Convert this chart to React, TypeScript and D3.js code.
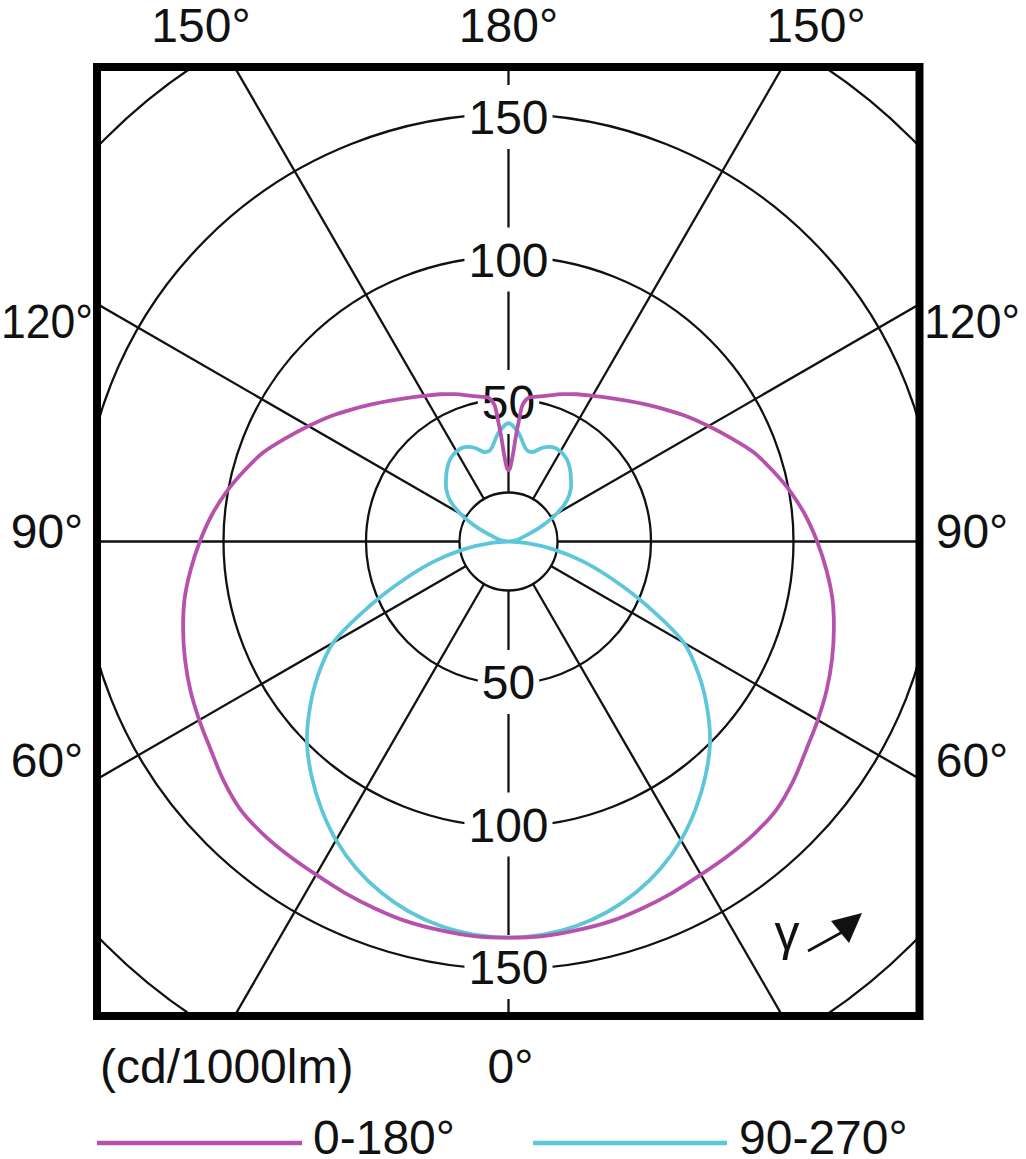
import React, { useEffect, useRef } from 'react';
import * as d3 from 'd3';

// ---- Data ----
// C0-C180 plane (magenta): gamma in degrees, intensity in cd/1000lm
const gammaC0 = [0, 5, 10, 15, 20, 25, 30, 35, 40, 45, 50, 55, 60, 65, 70, 75, 80, 85, 90, 95, 100, 105, 110, 115, 120, 125, 130, 135, 140, 145, 150, 155, 160, 165, 170, 172, 174, 175, 176, 177, 178, 179, 180];
const intensityC0 = [139, 139, 138.5, 138, 137, 136, 135, 134.5, 134, 133, 130.5, 127.5, 125.3, 123.2, 120.8, 118.2, 115.4, 111.9, 108.3, 104.6, 100.5, 96, 91.5, 86, 81, 76.5, 72, 68, 64.5, 61.5, 59, 57, 55, 53, 51.5, 51, 48.5, 43, 37, 31, 27.5, 25.5, 25];

// C90-C270 plane (cyan)
const gammaC90 = [0, 5, 10, 15, 20, 25, 30, 35, 40, 45, 50, 55, 60, 65, 70, 75, 80, 85, 90, 95, 100, 105, 110, 115, 120, 125, 130, 135, 140, 145, 150, 155, 160, 165, 168, 170, 175, 180];
const intensityC90 = [139, 138.5, 137, 134.5, 131, 126.5, 121, 114.5, 107.5, 100, 91, 81.5, 71, 54, 39, 27, 16, 6, 0, 1, 3, 4.5, 7.5, 13, 19.5, 25, 28.5, 31, 33.5, 35.5, 36.5, 36.5, 35, 32.5, 32.5, 33.5, 38.5, 41.5];

const ringValues = [50, 100, 150, 200];
const innerRingValue = 17.2;
const ringLabelValues = [50, 100, 150];
const radialAngles = [0, 30, 60, 90, 120, 150, 180];
const topAngleLabels = ['150°', '180°', '150°'];
const sideAngleLabels = ['120°', '90°', '60°'];
const bottomAngleLabel = '0°';
const unitLabel = '(cd/1000lm)';
const seriesNames = ['0-180°', '90-270°'];
const seriesColors = ['#B651AC', '#5EC6D9'];
const gammaSymbol = 'γ';

const FONT = '"Liberation Sans", Arial, sans-serif';

export default function App() {
  const ref = useRef<SVGSVGElement | null>(null);

  useEffect(() => {
    const svg = d3.select(ref.current);
    svg.selectAll('*').remove();

    const W = 1026, H = 1159;
    const cx = 508.5, cy = 541.5;
    const frame = { x0: 97, x1: 919.5, y0: 67, y1: 1016 };
    const r = d3.scaleLinear().domain([0, 200]).range([0, 570]);
    const fs = 48;

    svg.append('rect').attr('width', W).attr('height', H).attr('fill', '#fff');

    svg.append('defs').append('clipPath').attr('id', 'frameClip')
      .append('rect')
      .attr('x', frame.x0).attr('y', frame.y0)
      .attr('width', frame.x1 - frame.x0).attr('height', frame.y1 - frame.y0);

    const plot = svg.append('g').attr('clip-path', 'url(#frameClip)');
    const c = plot.append('g').attr('transform', `translate(${cx},${cy})`);

    // rings
    c.selectAll('circle.ring')
      .data([innerRingValue, ...ringValues])
      .join('circle')
      .attr('class', 'ring')
      .attr('r', (d) => r(d))
      .attr('fill', 'none')
      .attr('stroke', '#111')
      .attr('stroke-width', 2.3);

    // radial lines (gamma measured from downward direction)
    const radials: { g: number; s: number }[] = [];
    radialAngles.forEach((g) => {
      radials.push({ g, s: 1 });
      if (g !== 0 && g !== 180) radials.push({ g, s: -1 });
    });
    c.selectAll('line.radial')
      .data(radials)
      .join('line')
      .attr('class', 'radial')
      .attr('x1', (d) => d.s * Math.sin((d.g * Math.PI) / 180) * r(innerRingValue))
      .attr('y1', (d) => Math.cos((d.g * Math.PI) / 180) * r(innerRingValue))
      .attr('x2', (d) => d.s * Math.sin((d.g * Math.PI) / 180) * r(260))
      .attr('y2', (d) => Math.cos((d.g * Math.PI) / 180) * r(260))
      .attr('stroke', '#111')
      .attr('stroke-width', 2.3);

    // ring labels with white background (top and bottom)
    const ringLabelData: { v: number; side: number }[] = [];
    ringLabelValues.forEach((v) => {
      ringLabelData.push({ v, side: -1 });
      ringLabelData.push({ v, side: 1 });
    });
    ringLabelData.forEach((d) => {
      const y = d.side * r(d.v);
      const yc = d.side < 0 ? y + 3 : y - 2;
      const grp = c.append('g');
      const bg = grp.append('rect').attr('fill', '#fff');
      const t = grp.append('text')
        .attr('x', 0)
        .attr('y', yc + 17)
        .attr('text-anchor', 'middle')
        .attr('font-family', FONT)
        .attr('font-size', fs)
        .attr('fill', '#111')
        .text(String(d.v));
      const w = (t.node() as SVGTextElement).getComputedTextLength();
      bg.attr('x', -w / 2 - 4).attr('y', yc - 32).attr('width', w + 8).attr('height', 64);
    });

    // curves
    const loop = (gs: number[], vs: number[]) => {
      const pts: [number, number][] = [];
      gs.forEach((g, i) => pts.push([Math.PI - (g * Math.PI) / 180, vs[i]]));
      for (let i = gs.length - 2; i >= 1; i--) {
        pts.push([Math.PI + (gs[i] * Math.PI) / 180, vs[i]]);
      }
      return pts;
    };
    const lineGen = d3.lineRadial<[number, number]>()
      .angle((d) => d[0])
      .radius((d) => r(d[1]))
      .curve(d3.curveCatmullRomClosed.alpha(0.5));

    c.append('path')
      .attr('d', lineGen(loop(gammaC90, intensityC90)) as string)
      .attr('fill', 'none')
      .attr('stroke', seriesColors[1])
      .attr('stroke-width', 3.8)
      .attr('stroke-linejoin', 'round');
    c.append('path')
      .attr('d', lineGen(loop(gammaC0, intensityC0)) as string)
      .attr('fill', 'none')
      .attr('stroke', seriesColors[0])
      .attr('stroke-width', 3.8)
      .attr('stroke-linejoin', 'round');

    // gamma symbol + arrow
    plot.append('text')
      .attr('x', 787).attr('y', 950)
      .attr('text-anchor', 'middle')
      .attr('font-family', FONT)
      .attr('font-size', 50)
      .attr('fill', '#111')
      .text(gammaSymbol);
    plot.append('line')
      .attr('x1', 808).attr('y1', 951).attr('x2', 846).attr('y2', 930)
      .attr('stroke', '#111').attr('stroke-width', 2.6);
    plot.append('path')
      .attr('d', 'M862,913 L831,921 L849,943 Z')
      .attr('fill', '#111');

    // frame
    svg.append('rect')
      .attr('x', frame.x0).attr('y', frame.y0)
      .attr('width', frame.x1 - frame.x0).attr('height', frame.y1 - frame.y0)
      .attr('fill', 'none')
      .attr('stroke', '#000')
      .attr('stroke-width', 8);

    const txt = (x: number, y: number, s: string, anchor = 'middle', maxW = 0) => {
      const t = svg.append('text')
        .attr('x', x).attr('y', y)
        .attr('text-anchor', anchor)
        .attr('font-family', FONT)
        .attr('font-size', fs)
        .attr('fill', '#111')
        .text(s);
      if (maxW > 0) {
        const w = (t.node() as SVGTextElement).getComputedTextLength();
        if (w > maxW) t.attr('textLength', maxW).attr('lengthAdjust', 'spacingAndGlyphs');
      }
      return t;
    };

    // outer angle labels
    const topX = [201, cx, W - 210];
    topAngleLabels.forEach((s, i) => txt(topX[i], 42, s));
    const sideY = [338, 548, 777];
    sideAngleLabels.forEach((s, i) => {
      txt(47, sideY[i], s, 'middle', 92);
      txt(972, sideY[i], s, 'middle', 96);
    });
    txt(cx + 2, 1083, bottomAngleLabel);
    txt(100, 1083, unitLabel, 'start');

    // legend
    const legendY = 1143;
    const legendItems = [
      { x1: 97, x2: 302, tx: 313 },
      { x1: 533, x2: 727, tx: 739 },
    ];
    legendItems.forEach((it, i) => {
      svg.append('line')
        .attr('x1', it.x1).attr('x2', it.x2)
        .attr('y1', legendY).attr('y2', legendY)
        .attr('stroke', seriesColors[i])
        .attr('stroke-width', 4.5);
      txt(it.tx, 1154, seriesNames[i], 'start');
    });
  }, []);

  return (
    <svg
      ref={ref}
      width={1026}
      height={1159}
      style={{ position: 'absolute', left: 0, top: 0, display: 'block' }}
    />
  );
}
